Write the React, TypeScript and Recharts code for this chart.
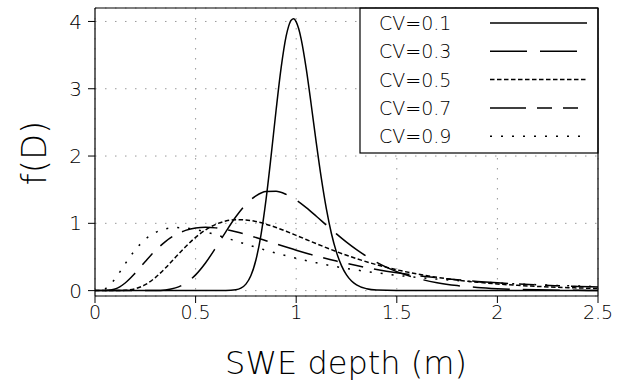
import { LineChart, Line, XAxis, YAxis, CartesianGrid, ReferenceLine } from "recharts";

// lognormal-looking SWE depth densities
const cv01X = [0, 0.6, 0.65, 0.7, 0.725, 0.75, 0.775, 0.8, 0.825, 0.85, 0.875, 0.9, 0.925, 0.95, 0.9625, 0.975, 0.9875, 1.0, 1.0125, 1.025, 1.05, 1.075, 1.1, 1.125, 1.15, 1.175, 1.2, 1.225, 1.25, 1.275, 1.3, 1.35, 1.4, 1.5, 2.5];
const cv01Y = [0, 0, 0.0007, 0.0114, 0.0358, 0.0961, 0.2238, 0.458, 0.83, 1.353, 1.994, 2.68, 3.309, 3.781, 3.931, 4.018, 4.039, 3.995, 3.891, 3.733, 3.294, 2.755, 2.193, 1.667, 1.214, 0.849, 0.572, 0.372, 0.234, 0.143, 0.085, 0.028, 0.008, 0.001, 0];

const cv03X = [0, 0.2, 0.3, 0.35, 0.4, 0.45, 0.5, 0.55, 0.6, 0.65, 0.7, 0.75, 0.8, 0.85, 0.9, 0.95, 1.0, 1.05, 1.1, 1.15, 1.2, 1.25, 1.3, 1.35, 1.4, 1.45, 1.5, 1.6, 1.7, 1.8, 1.9, 2.0, 2.2, 2.4, 2.5];
const cv03Y = [0, 0, 0.0018, 0.0108, 0.0407, 0.1102, 0.2341, 0.4144, 0.6365, 0.8742, 1.0974, 1.2806, 1.4075, 1.4718, 1.4764, 1.43, 1.3444, 1.2324, 1.1055, 0.9734, 0.8433, 0.7206, 0.6084, 0.5083, 0.4208, 0.3456, 0.2819, 0.1844, 0.1184, 0.075, 0.047, 0.0293, 0.0112, 0.0042, 0.0026];

const cv05X = [0, 0.1, 0.15, 0.2, 0.25, 0.3, 0.35, 0.4, 0.45, 0.5, 0.55, 0.6, 0.65, 0.7, 0.75, 0.8, 0.85, 0.9, 0.95, 1.0, 1.1, 1.2, 1.3, 1.4, 1.5, 1.6, 1.7, 1.8, 1.9, 2.0, 2.1, 2.2, 2.3, 2.4, 2.5];
const cv05Y = [0, 0.0002, 0.0044, 0.0277, 0.0886, 0.1942, 0.3357, 0.4947, 0.6519, 0.7916, 0.904, 0.9848, 1.0341, 1.0545, 1.0505, 1.0266, 0.9878, 0.9383, 0.8818, 0.8213, 0.6976, 0.5799, 0.4749, 0.3847, 0.3093, 0.2474, 0.1972, 0.1568, 0.1246, 0.0989, 0.0786, 0.0625, 0.0498, 0.0397, 0.0317];

const cv07X = [0.05, 0.1, 0.15, 0.2, 0.25, 0.3, 0.35, 0.4, 0.45, 0.5, 0.55, 0.6, 0.65, 0.7, 0.75, 0.8, 0.85, 0.9, 1.0, 1.1, 1.2, 1.3, 1.4, 1.5, 1.6, 1.7, 1.8, 1.9, 2.0, 2.1, 2.2, 2.3, 2.4, 2.5];
const cv07Y = [0.0007, 0.0247, 0.1135, 0.2611, 0.432, 0.5942, 0.7289, 0.8292, 0.8951, 0.9307, 0.9413, 0.9324, 0.9088, 0.8749, 0.8341, 0.7891, 0.742, 0.6942, 0.601, 0.5151, 0.4386, 0.372, 0.3148, 0.2662, 0.2251, 0.1905, 0.1614, 0.1369, 0.1163, 0.099, 0.0845, 0.0722, 0.0618, 0.0531];

const cv09X = [0.05, 0.1, 0.15, 0.2, 0.25, 0.3, 0.35, 0.4, 0.45, 0.5, 0.55, 0.6, 0.65, 0.7, 0.75, 0.8, 0.9, 1.0, 1.1, 1.2, 1.3, 1.4, 1.5, 1.6, 1.7, 1.8, 1.9, 2.0, 2.1, 2.2, 2.3, 2.4, 2.5];
const cv09Y = [0.0223, 0.1745, 0.3987, 0.606, 0.7617, 0.8627, 0.9175, 0.9369, 0.9308, 0.9073, 0.8724, 0.8305, 0.7848, 0.7377, 0.6905, 0.6445, 0.558, 0.4809, 0.4137, 0.3557, 0.3062, 0.2639, 0.2279, 0.1973, 0.1711, 0.1488, 0.1298, 0.1134, 0.0994, 0.0873, 0.0768, 0.0678, 0.06];

const xTicks = [0, 0.5, 1, 1.5, 2, 2.5];
const yTicks = [0, 1, 2, 3, 4];

const FONT = "'DejaVu Sans', sans-serif";

const zip = (xs: number[], ys: number[]) => xs.map((x, i) => ({ x, y: ys[i] }));

const series = [
    { name: "CV=0.1", data: zip(cv01X, cv01Y), dash: undefined as string | undefined },
    { name: "CV=0.3", data: zip(cv03X, cv03Y), dash: "37 13" },
    { name: "CV=0.5", data: zip(cv05X, cv05Y), dash: "4.5 2.5" },
    { name: "CV=0.7", data: zip(cv07X, cv07Y), dash: "36 11 15 11 15 11" },
    { name: "CV=0.9", data: zip(cv09X, cv09Y), dash: "2 9" },
];

// legend box in the upper right corner of the plot
const LegendBox = () => (
    <g>
        <rect x={360} y={8} width={238} height={145} fill="#fff" stroke="#000" strokeWidth={1.2} />
        {series.map((s, i) => {
            const base = 30 + i * 28.3;
            return (
                <g key={s.name}>
                    <text x={379} y={base} fontSize={19} fontFamily={FONT} fontWeight={200} fill="#000">
                        {s.name}
                    </text>
                    <line x1={490} x2={587} y1={base - 7} y2={base - 7} stroke="#000" strokeWidth={1.5} strokeDasharray={s.dash} />
                </g>
            );
        })}
    </g>
);

export default function App() {
    return (
        <div style={{ position: "absolute", left: 0, top: 0, background: "#fff" }}>
            <LineChart width={621} height={385} margin={{ top: 8, right: 23, bottom: 59, left: 0 }}>
                <CartesianGrid stroke="#999" strokeDasharray="1.5 8.5" />
                <XAxis
                    type="number"
                    dataKey="x"
                    domain={[0, 2.5]}
                    ticks={xTicks}
                    allowDataOverflow
                    height={30}
                    tickSize={7}
                    tickMargin={3}
                    tick={{ fill: "#000", fontSize: 19, fontFamily: FONT, fontWeight: 200 }}
                    tickLine={{ stroke: "#000" }}
                    axisLine={{ stroke: "#000", strokeWidth: 1.2 }}
                    label={() => (
                        <text x={346} y={374} textAnchor="middle" fontSize={32} fontFamily={FONT} fontWeight={200} fill="#000">
                            SWE depth (m)
                        </text>
                    )}
                />
                <YAxis
                    type="number"
                    domain={[-0.08, 4.2]}
                    ticks={yTicks}
                    allowDataOverflow
                    width={95}
                    tickSize={7}
                    tickMargin={6}
                    tick={{ fill: "#000", fontSize: 20, fontFamily: FONT, fontWeight: 200 }}
                    tickLine={{ stroke: "#000" }}
                    axisLine={{ stroke: "#000", strokeWidth: 1.2 }}
                    label={() => (
                        <text
                            transform="translate(34,153) rotate(-90)"
                            textAnchor="middle"
                            dominantBaseline="central"
                            fontSize={34}
                            fontFamily={FONT}
                            fontWeight={200}
                            fill="#000"
                        >
                            f(D)
                        </text>
                    )}
                />
                <ReferenceLine y={4.2} stroke="#000" strokeWidth={1.2} />
                <ReferenceLine x={2.5} stroke="#000" strokeWidth={1.2} />
                {series.map((s) => (
                    <Line
                        key={s.name}
                        data={s.data}
                        dataKey="y"
                        type="monotone"
                        stroke="#000"
                        strokeWidth={1.5}
                        strokeDasharray={s.dash}
                        dot={false}
                        activeDot={false}
                        isAnimationActive={false}
                    />
                ))}
                <LegendBox />
            </LineChart>
        </div>
    );
}
